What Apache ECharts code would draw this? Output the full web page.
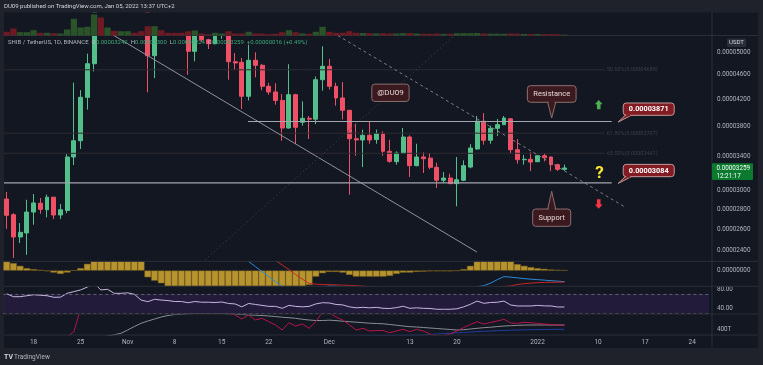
<!DOCTYPE html>
<html>
<head>
<meta charset="utf-8">
<script src="https://cdn.jsdelivr.net/npm/echarts@6.0.0/dist/echarts.min.js"></script>
<style>
  html, body { margin: 0; padding: 0; background: #1f222b; }
  #main { width: 763px; height: 365px; }
</style>
</head>
<body>
<div id="main"></div>
<script>
// prices are in units of 1e-8 USDT
// daily candles from 2021-10-14, [open, close, low, high]
const candles = [
  [2905,2735,2600,2982],[2741,2524,2335,2757],[2524,2568,2468,2658],[2562,2768,2363,2897],[2768,2863,2641,2960],
  [2860,2796,2751,2916],[2792,2925,2714,2953],[2925,2738,2697,2928],[2738,2792,2697,2852],[2785,3394,2757,3430],
  [3394,3605,3295,4469],[3605,4234,3496,4347],[4234,4795,4045,4976],[4795,7000,4660,7300],[7000,6500,6200,8845],
  [6500,6950,6300,7300],[6950,6600,6400,7100],[6600,6750,6400,7000],[6750,6900,6500,7200],[6900,6600,6300,7000],
  [6600,5900,5700,6700],[5900,4939,4313,6000],[4939,5650,4547,5800],[5650,5550,5400,6000],[5550,5480,5380,5700],
  [5480,5450,5360,5600],[5450,5420,5350,5550],[5420,5020,4604,5500],[5020,5450,4838,5600],[5450,5241,5200,5500],
  [5241,5164,5063,5260],[5164,5380,5150,5450],[5380,5450,5260,5550],[5450,4831,4519,5500],[4831,4808,4689,4988],
  [4820,4250,4055,4897],[4250,4856,4185,5145],[4856,4767,4559,5002],[4767,4410,4347,4790],[4410,4318,4275,4467],
  [4318,4185,4120,4460],[4185,3779,3605,4286],[3779,4275,3770,4785],[4275,3789,3561,4290],[3860,3917,3811,4172],
  [3917,3905,3628,3950],[3905,4519,3834,4574],[4519,4749,4340,5114],[4749,4410,4357,4880],[4410,4224,4105,4470],
  [4224,4035,3900,4480],[4035,3632,2952,4040],[3632,3615,3410,3840],[3615,3678,3270,3756],[3678,3615,3565,3874],
  [3620,3700,3565,3756],[3700,3466,3410,3734],[3466,3340,3322,3618],[3336,3444,3299,3466],[3444,3655,3436,3779],
  [3655,3287,3152,3678],[3287,3394,3279,3565],[3394,3373,3199,3454],[3380,3267,3244,3444],[3267,3114,3026,3322],
  [3114,3140,3084,3210],[3140,3075,3070,3190],[3075,3120,2828,3394],[3114,3287,3104,3352],[3270,3509,3255,3560],
  [3496,3874,3490,3950],[3874,3611,3553,3994],[3611,3775,3565,3811],[3775,3826,3670,3908],[3826,3922,3820,3950],
  [3910,3487,3444,3915],[3487,3360,3311,3628],[3360,3366,3300,3420],[3366,3331,3222,3454],[3336,3410,3330,3420],
  [3410,3385,3340,3444],[3394,3299,3222,3400],[3299,3243,3222,3310],[3242,3259,3224,3300]
];
// volume, trillions
const volumes = [
  7.4,14,6.6,6.6,10.6,5.4,5.4,4.6,4,12,
  33.4,16,17.4,42,36,16,9.4,8.6,8.6,5.4,
  8.6,18.6,18.6,10.6,5.4,5.4,5.4,8.6,10,4,
  2.6,5.4,4,8.6,4,4,7.4,4,4,2.6,
  3.4,6.6,10.6,6.6,4,3.4,7.4,17.4,7.4,5.4,
  5.4,8.6,5.4,5,4.6,4.2,4.4,4,4,4.6,
  5,4,3.4,3.4,3.8,3.2,3.4,4.6,4.6,4.6,
  4.8,4,3.6,3.6,3.4,4,3.6,3,3,3,
  2.8,2.8,2.6,1.6
];
// MACD (units 1e-10)
const macdHist = [
  90,74,47,24,14,7,-6,-20,-33,-20,
  2,24,67,150,400,520,560,520,450,350,
  200,-66,-100,-126,-165,-190,-215,-240,-250,-255,
  -255,-250,-240,-245,-250,-255,-250,-245,-240,-232,
  -225,-222,-205,-190,-165,-143,-60,-26,-13,-13,
  -20,-43,-60,-60,-60,-60,-60,-53,-33,-20,
  -20,-13,-10,-7,-7,-7,-7,-2,14,47,
  92,95,96,96,95,92,64,47,34,24,
  17,10,7,4
];
const macdLine = [
  400,380,350,330,320,310,300,290,280,290,
  320,380,460,600,750,880,950,980,970,920,
  850,700,600,520,470,420,380,340,310,280,
  250,230,210,180,160,130,90,40,-10,-60,
  -110,-158,-180,-220,-240,-269,-195,-165,-153,-155,
  -165,-190,-210,-215,-220,-225,-230,-225,-210,-200,
  -205,-200,-198,-200,-205,-200,-196,-190,-185,-175,
  -160,-150,-125,-90,-60,-65,-72,-80,-85,-90,
  -95,-100,-105,-110
];
const signalLine = [
  310,306,303,306,306,303,306,310,313,310,
  318,356,393,430,500,580,650,720,770,800,
  810,766,700,646,635,610,595,580,560,535,
  505,480,450,425,410,385,340,285,230,172,
  100,55,10,-40,-85,-128,-135,-139,-140,-142,
  -145,-147,-150,-155,-160,-165,-170,-172,-177,-180,
  -185,-187,-188,-193,-198,-195,-192,-190,-190,-190,
  -185,-180,-172,-165,-158,-152,-138,-130,-124,-120,
  -118,-116,-115,-114
];
const rsi = [
  70,64,64,66,68,67,66,62.8,63,71,
  74.5,78,84,92,78,79.3,71,71,72,69,
  57,53.7,58.6,57,56,54,54,51.6,54,52.6,
  52.6,52,53,50,49,43,50,48,46,44,
  44,40,46,44,43,44,49,51.6,51,48,
  47,43,41,42,41,42,40,39.6,41.4,44.2,
  40,41,40,39.6,38,38,38,39,43,48.3,
  55,50.3,52,52.5,55,46.8,44.8,44.8,44.8,46,
  45,44.8,42.7,42.7
];
// bottom pane, trillions
const obvLine = [
  230,180,200,230,260,250,265,255,270,320,
  375,600,720,950,820,880,850,870,900,860,
  820,700,790,750,720,690,640,545,600,580,
  570,590,600,560,540,500,540,490,507,473,
  440,390,463,430,450,407,473,570,560,520,
  490,440,390,407,380,385,385,363,380,397,
  373,397,380,350,330,330,350,380,415,445,
  473,450,465,480,497,460,457,467,462,457,
  450,445,440,437
];
const obvAvg = [
  150,160,170,180,190,200,210,220,230,240,
  255,270,285,300,315,330,342,357,390,425,
  457,480,500,520,535,545,548,553,556,557,
  557,556,555,552,548,545,541,538,535,530,
  524,518,513,507,497,490,485,485,488,484,
  478,473,468,463,458,455,452,445,438,430,
  423,420,415,410,405,400,395,390,393,400,
  407,413,418,424,430,433,436,439,440,440,
  440,440,440,440
];
const obvSlow = [
  120,124,128,132,137,141,146,150,155,160,
  166,172,180,190,200,210,218,226,233,240,
  246,252,257,262,266,270,274,278,281,284,
  287,290,292,295,297,299,301,303,305,307,
  309,311,313,315,317,319,321,322,324,325,
  327,328,329,331,332,333,334,335,336,337,
  338,339,340,345,350,355,358,362,366,370,
  374,377,380,383,386,388,390,392,393,394,
  395,396,397,397
];

const priceTicks = [5000, 4600, 4200, 3800, 3400, 3000, 2800, 2600, 2400];
const timeTicks = [
  ['2021-10-18','18'],['2021-10-25','25'],['2021-11-01','Nov'],['2021-11-08','8'],
  ['2021-11-15','15'],['2021-11-22','22'],['2021-12-01','Dec'],['2021-12-13','13'],
  ['2021-12-20','20'],['2022-01-01','2022'],['2022-01-10','10'],['2022-01-17','17'],['2022-01-24','24']
];
const resistance = 3871;
const support = 3084;
const fibLevels = [['50.00%', 4688], ['61.80%', 3707], ['65.00%', 3441]];

// category axis: 105 days from Oct 14
const dates = [];
for (let k = 0; k < 105; k++) {
  dates.push(new Date(Date.UTC(2021, 9, 14 + k)).toISOString().slice(0, 10));
}
const tickMap = new Map(timeTicks);

const FONT = 'Roboto, "Noto Sans", sans-serif';
const UP = '#53c08c', DOWN = '#ef5066';
const TXT = '#b2b5be';
const SEP = '#2a2e39';
const PMIN = 2309.2, PMAX = 5323;

const chart = echarts.init(document.getElementById('main'));

const gridBase = { left: 3.34, width: 705.6, outerBoundsMode: 'none' };
const grids = [
  Object.assign({ top: 13.5, height: 22 }, gridBase),
  Object.assign({ top: 35.5, height: 225.5 }, gridBase),
  Object.assign({ top: 261.5, height: 24.5 }, gridBase),
  Object.assign({ top: 286.5, height: 27.5 }, gridBase),
  Object.assign({ top: 314, height: 21 }, gridBase)
];

const axisText = { color: TXT, fontSize: 6.3, fontFamily: FONT, margin: 8 };

function yAx(k, extra) {
  return Object.assign({
    gridIndex: k, type: 'value', position: 'right',
    axisLine: { show: false }, axisTick: { show: false }, splitLine: { show: false }
  }, extra);
}

const isUp = candles.map(c => c[1] >= c[0]);

const option = {
  animation: false,
  backgroundColor: '#1f222b',
  grid: grids,
  xAxis: grids.map((g, k) => ({
    type: 'category', gridIndex: k, data: dates, boundaryGap: true,
    axisLine: { show: false }, axisTick: { show: false }, splitLine: { show: false },
    axisLabel: k === 4 ? {
      show: true, color: TXT, fontSize: 6.5, fontFamily: FONT, margin: 2, lineHeight: 10,
      interval: (i, v) => tickMap.has(v),
      formatter: v => tickMap.get(v) || ''
    } : { show: false }
  })),
  yAxis: [
    yAx(0, { min: 0, max: 44, show: false }),
    yAx(1, {
      min: Math.log(PMIN), max: Math.log(PMAX),
      axisLabel: Object.assign({
        customValues: priceTicks.map(Math.log),
        formatter: v => (Math.exp(v) / 1e8).toFixed(8)
      }, axisText)
    }),
    yAx(2, {
      min: -153, max: 90,
      axisLabel: Object.assign({ customValues: [0], formatter: () => '0.00000000' }, axisText)
    }),
    yAx(3, {
      min: 28.2, max: 85.1,
      axisLabel: Object.assign({ customValues: [80, 40], formatter: v => v.toFixed(2) }, axisText)
    }),
    yAx(4, {
      min: 340, max: 550,
      axisLabel: Object.assign({ customValues: [400], formatter: v => v + 'T' }, axisText)
    })
  ],
  series: [
    {
      type: 'bar', xAxisIndex: 0, yAxisIndex: 0, barCategoryGap: '6%', z: 10,
      data: volumes.map((v, i) => ({ value: v, itemStyle: { color: isUp[i] ? '#2b5329' : '#6e1a24' } }))
    },
    {
      type: 'candlestick', xAxisIndex: 1, yAxisIndex: 1, barWidth: 4.4, clip: true,
      data: candles.map(c => c.map(Math.log)),
      itemStyle: { color: UP, color0: DOWN, borderColor: UP, borderColor0: DOWN, borderWidth: 1 }
    },
    {
      type: 'bar', xAxisIndex: 2, yAxisIndex: 2, barCategoryGap: '0%', data: macdHist,
      itemStyle: { color: '#b8942f', borderColor: '#7a6220', borderWidth: 0.5 }
    },
    {
      type: 'line', xAxisIndex: 2, yAxisIndex: 2, data: macdLine, symbol: 'none',
      lineStyle: { width: 1, color: '#2a8bd8' }
    },
    {
      type: 'line', xAxisIndex: 2, yAxisIndex: 2, data: signalLine, symbol: 'none',
      lineStyle: { width: 1, color: '#c62828' }
    },
    {
      type: 'line', xAxisIndex: 3, yAxisIndex: 3, data: rsi, symbol: 'none',
      lineStyle: { width: 1, color: '#c8b6e2' },
      markArea: {
        silent: true, itemStyle: { color: 'rgba(120,60,200,0.15)' },
        data: [[{ yAxis: 70 }, { yAxis: 30 }]]
      },
      markLine: {
        silent: true, symbol: 'none', label: { show: false },
        lineStyle: { color: '#5d5f6b', type: [3, 3], width: 1 },
        data: [{ yAxis: 70 }, { yAxis: 30 }]
      }
    },
    {
      type: 'line', xAxisIndex: 4, yAxisIndex: 4, data: obvAvg, symbol: 'none',
      lineStyle: { width: 1, color: '#8a8d96' }
    },
    {
      type: 'line', xAxisIndex: 4, yAxisIndex: 4, data: obvSlow, symbol: 'none',
      lineStyle: { width: 1, color: '#1f3f9e' }
    },
    {
      type: 'line', xAxisIndex: 4, yAxisIndex: 4, data: obvLine, symbol: 'none',
      lineStyle: { width: 1, color: '#b4164a' }
    }
  ]
};
chart.setOption(option);

// pixel of (fractional day index, price) on the price pane
function P(idx, price) {
  const a = chart.convertToPixel({ gridIndex: 1 }, [0, Math.log(price)]);
  const b = chart.convertToPixel({ gridIndex: 1 }, [1, Math.log(price)]);
  return [a[0] + (b[0] - a[0]) * idx, a[1]];
}

function line(p, q, color, width, dash) {
  return { type: 'line', silent: true, z: 10, shape: { x1: p[0], y1: p[1], x2: q[0], y2: q[1] },
    style: { stroke: color, lineWidth: width, lineDash: dash || null } };
}
function text(x, y, str, font, fill, align) {
  return { type: 'text', silent: true, z: 12, style: { x: x, y: y, text: str, font: font, fill: fill,
    align: align || 'left', verticalAlign: 'middle' } };
}
function note(x, y, w, h, label, fill, stroke, tfill, font, pointer) {
  const els = [];
  if (pointer) {
    els.push({ type: 'polygon', silent: true, z: 11, shape: { points: pointer }, style: { fill: fill, stroke: stroke, lineWidth: 1 } });
  }
  els.push({ type: 'rect', silent: true, z: 11, shape: { x: x, y: y, width: w, height: h, r: 3 },
    style: { fill: fill, stroke: stroke, lineWidth: 1 } });
  if (pointer) {
    const inner = pointer.slice(0, 2);
    els.push({ type: 'line', silent: true, z: 11, shape: { x1: inner[0][0] + 1, y1: inner[0][1], x2: inner[1][0] - 1, y2: inner[1][1] },
      style: { stroke: fill, lineWidth: 2 } });
  }
  els.push(text(x + w / 2, y + h / 2 + 0.5, label, font, tfill, 'center'));
  return els;
}

const g = [];
// panels; the masks hide the parts of the candles above the price pane
g.push({ type: 'rect', silent: true, z: -100, shape: { x: 4, y: 12.5, width: 754, height: 335.5 }, style: { fill: '#131722' } });
g.push({ type: 'rect', silent: true, z: 5, shape: { x: 0, y: 0, width: 763, height: 12.5 }, style: { fill: '#1f222b' } });
g.push({ type: 'rect', silent: true, z: 5, shape: { x: 4, y: 12.5, width: 708, height: 23 }, style: { fill: '#131722' } });
[35.5, 261.3, 286.3, 314, 335].forEach(y => g.push(line([4, y], [758, y], SEP, 1)));
g.push(line([712, 12.5], [712, 348], SEP, 1));

// header and symbol legend
g.push(text(4, 6.5, 'DU09 published on TradingView.com, Jan 05, 2022 13:37 UTC+2', '6px ' + FONT, '#d1d4dc'));
const last = candles[candles.length - 1];
const prev = candles[candles.length - 2];
const f8 = v => (v / 1e8).toFixed(8);
const chg = last[1] - prev[1];
g.push({ type: 'text', silent: true, z: 12, style: {
  x: 8, y: 42.3, verticalAlign: 'middle', font: '6px ' + FONT,
  text: '{s|SHIB / TetherUS, 1D, BINANCE}  {l|O}{v|' + f8(last[0]) + '}  {l|H}{v|' + f8(last[3]) +
        '}  {l|L}{v|' + f8(last[2]) + '}  {l|C}{v|' + f8(last[1]) + '}  {v|+' + f8(chg) +
        ' (+' + (chg / prev[1] * 100).toFixed(2) + '%)}',
  rich: { s: { fill: '#b2b5be' }, l: { fill: '#b2b5be' }, v: { fill: '#3fa877' } }
} });

// fib levels
fibLevels.forEach(([pct, price]) => {
  const a = P(-0.4, price), b = P(89.0, price);
  g.push(line(a, b, '#2e2a30', 1));
  g.push(text(b[0] + 2, b[1], pct + '(' + f8(price) + ')', '5.5px ' + FONT, '#3d3f48'));
});

// trend lines
g.push(line(P(15.82, 5333), P(69.98, 2387), '#8f929b', 1));
g.push(line(P(49.27, 5323), P(92.0, 2820), '#7a7d86', 1, [3, 3]));
g.push(line(P(29.5, 2318), P(66.7, 5333), '#363a45', 1, [1.5, 2.5]));

// support / resistance
g.push(line(P(35.9, resistance), P(90.03, resistance), '#a3a6af', 1.2));
g.push(line(P(-0.4, support), P(90.03, support), '#a3a6af', 1.2));

const darkFill = '#3b1a1f', darkStroke = '#8d6e6e', darkText = '#e6d5d5';
// @DU09
let c = P(57.1, 4306);
g.push(...note(c[0] - 18.6, c[1] - 8.6, 37.3, 17.3, '@DU09', darkFill, darkStroke, darkText, '8px ' + FONT));
// Resistance callout
let t = P(81.1, 3922);
g.push(...note(t[0] - 24.3, t[1] - 32.3, 48.7, 16.6, 'Resistance', darkFill, darkStroke, darkText, '7.5px ' + FONT,
  [[t[0] - 4, t[1] - 15.7], [t[0] + 4, t[1] - 15.7], [t[0], t[1]]]));
// Support callout
t = P(81.1, 2989);
g.push(...note(t[0] - 19, t[1] + 17.7, 38, 17.3, 'Support', darkFill, darkStroke, darkText, '7.5px ' + FONT,
  [[t[0] - 4, t[1] + 17.7], [t[0] + 4, t[1] + 17.7], [t[0], t[1]]]));

// price tags
[resistance, support].forEach(price => {
  const tip = P(91.0, price);
  tip[1] += 0.5;
  g.push(...note(tip[0] + 5, tip[1] - 19, 51, 12.3, f8(price), '#821c22', '#c29b9b', '#ffffff', 'bold 7.3px ' + FONT,
    [[tip[0] + 7, tip[1] - 6.7], [tip[0] + 13, tip[1] - 6.7], [tip[0], tip[1]]]));
});

// arrows and question mark
c = P(88.1, 4120);
g.push({ type: 'polygon', silent: true, z: 11, style: { fill: '#4caf50' }, shape: { points: [
  [c[0], c[1] - 4.7], [c[0] + 3.9, c[1] - 0.5], [c[0] + 1.8, c[1] - 0.5], [c[0] + 1.8, c[1] + 4.7],
  [c[0] - 1.8, c[1] + 4.7], [c[0] - 1.8, c[1] - 0.5], [c[0] - 3.9, c[1] - 0.5]] } });
c = P(88.1, 2852);
g.push({ type: 'polygon', silent: true, z: 11, style: { fill: '#f23645' }, shape: { points: [
  [c[0], c[1] + 4.7], [c[0] + 3.9, c[1] + 0.5], [c[0] + 1.8, c[1] + 0.5], [c[0] + 1.8, c[1] - 4.7],
  [c[0] - 1.8, c[1] - 4.7], [c[0] - 1.8, c[1] + 0.5], [c[0] - 3.9, c[1] + 0.5]] } });
c = P(88.2, 3195);
g.push(text(c[0], c[1], '?', 'bold 17px ' + FONT, '#ffe62e', 'center'));

// price scale extras
g.push({ type: 'rect', silent: true, z: 11, shape: { x: 727, y: 38.5, width: 19, height: 8.5, r: 1 }, style: { fill: '#2a2e39' } });
g.push(text(736.5, 42.8, 'USDT', '6px ' + FONT, '#d1d4dc', 'center'));
const lp = P(83, last[1]);
g.push({ type: 'rect', silent: true, z: 11, shape: { x: 712, y: lp[1] - 4.7, width: 41, height: 16.7, r: 1 }, style: { fill: '#0b7a2e' } });
g.push(text(716.5, lp[1], f8(last[1]), '6.3px ' + FONT, '#ffffff'));
g.push(text(716.5, lp[1] + 8, '12:21:17', '6.3px ' + FONT, '#ffffff'));

// footer logo
g.push(text(4, 357, 'TV', 'bold 7px ' + FONT, '#d1d4dc'));
g.push(text(14, 357, 'TradingView', '6.5px ' + FONT, '#b2b5be'));

chart.setOption({ graphic: { elements: g } });
</script>
</body>
</html>
